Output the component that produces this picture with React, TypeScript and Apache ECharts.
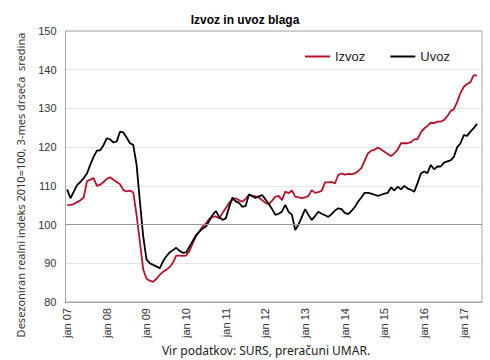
import React, { useEffect, useRef } from "react";
import * as echarts from "echarts";

const monthNames = ["jan", "feb", "mar", "apr", "maj", "jun", "jul", "avg", "sep", "okt", "nov", "dec"];
const yearLabels = ["07", "08", "09", "10", "11", "12", "13", "14", "15", "16", "17"];
const categoryCount = 126;

const izvoz = [
  105.0, 105.1, 105.3, 105.8, 106.3, 107.0, 111.2, 111.6, 112.0, 110.0, 110.3, 111.0,
  111.8, 112.2, 111.6, 111.0, 110.4, 108.9, 108.6, 108.8, 108.3, 102.5, 95.5, 88.5,
  86.0, 85.5, 85.2, 86.0, 87.0, 87.8, 88.3, 89.0, 90.2, 92.0, 92.0, 91.9,
  92.0, 93.2, 95.2, 97.0, 98.3, 99.5, 100.3, 101.5, 102.0, 102.1, 101.6, 103.0,
  104.3, 105.6, 106.4, 106.8, 106.3, 105.9, 106.6, 107.7, 107.5, 107.3, 107.0, 106.3,
  105.6, 105.3, 106.2, 107.2, 107.4, 106.3, 108.5, 108.1, 108.8, 107.2, 107.0, 106.8,
  107.0, 107.4, 108.9, 108.2, 108.4, 108.7, 110.9, 110.9, 111.0, 110.6, 112.8, 113.2,
  112.9, 113.1, 113.0, 113.2, 113.8, 114.6, 116.5, 118.4, 119.1, 119.3, 119.9, 119.4,
  118.8, 118.2, 117.7, 118.4, 119.4, 121.0, 121.0, 121.0, 121.3, 122.0, 122.1, 123.8,
  124.8, 125.5, 126.3, 126.2, 126.6, 126.6, 127.0, 128.0, 129.3, 129.8, 131.7, 134.0,
  135.6, 136.3, 136.8, 138.6, 138.5,
];

const uvoz = [
  109.1, 106.8, 108.5, 110.2, 111.0, 112.0, 113.2, 115.5, 117.5, 119.1, 119.2, 120.5,
  122.3, 122.0, 121.2, 121.5, 124.0, 123.8, 122.5, 121.0, 120.6, 115.5, 106.0, 97.0,
  91.0, 90.0, 89.6, 89.2, 88.7, 90.5, 91.8, 92.8, 93.4, 94.0, 93.2, 92.7,
  92.8, 94.3, 95.8, 97.3, 98.2, 99.0, 99.5, 101.0, 102.5, 103.5, 102.0, 101.2,
  101.6, 104.5, 107.0, 106.0, 105.6, 104.6, 104.8, 107.8, 107.3, 106.9, 107.3, 107.6,
  106.5, 105.3, 104.0, 102.5, 102.8, 103.4, 105.1, 103.3, 102.5, 98.6, 100.0, 102.0,
  104.0, 102.5, 101.2, 102.2, 103.3, 102.8, 102.4, 102.0, 102.7, 103.6, 104.2, 104.0,
  103.0, 102.7, 103.5, 104.5, 105.9, 107.0, 108.2, 108.2, 108.0, 107.7, 107.4, 107.7,
  108.0, 108.2, 109.6, 108.8, 109.8, 109.1, 110.0, 109.3, 109.0, 108.5, 110.7, 113.2,
  113.7, 113.3, 115.4, 114.3, 115.0, 115.0, 116.0, 116.3, 116.6, 117.5, 120.0, 121.0,
  123.1, 122.9, 124.0, 124.9, 126.0,
];

const categories: string[] = [];
for (let i = 0; i < categoryCount; i++) {
  const y = yearLabels[Math.floor(i / 12)];
  categories.push(monthNames[i % 12] + " " + y);
}

const yMin = 80;
const yMax = 150;
const yStep = 10;

export default function App() {
  const ref = useRef<HTMLDivElement>(null);
  useEffect(() => {
    if (!ref.current) return;
    const chart = echarts.init(ref.current, null, { renderer: "svg" });
    const font = "'Liberation Sans', Arial, sans-serif";
    chart.setOption({
      animation: false,
      backgroundColor: "#ffffff",
      textStyle: { fontFamily: font },
      grid: {
        left: 65.5,
        right: 8,
        top: 31,
        bottom: 58,
        show: true,
        borderColor: "#a6a6a6",
        borderWidth: 1,
      },
      title: {
        text: "Izvoz in uvoz blaga",
        left: "center",
        top: 9,
        textStyle: { fontSize: 12, fontWeight: "bold", color: "#000", fontFamily: font },
      },
      legend: {
        left: 300,
        top: 45,
        icon: "rect",
        itemWidth: 25,
        itemHeight: 2,
        itemGap: 25,
        textStyle: { fontSize: 13, color: "#222", fontFamily: font },
        data: ["Izvoz", "Uvoz"],
      },
      xAxis: {
        type: "category",
        data: categories,
        boundaryGap: true,
        axisLine: { show: true, lineStyle: { color: "#a6a6a6" } },
        axisTick: { show: false },
        axisLabel: {
          interval: 11,
          rotate: 90,
          fontSize: 11,
          color: "#333",
          margin: 6,
          fontFamily: font,
        },
        splitLine: { show: false },
      },
      yAxis: {
        type: "value",
        min: yMin,
        max: yMax,
        interval: yStep,
        axisLine: { show: true, lineStyle: { color: "#a6a6a6" } },
        axisTick: { show: false },
        axisLabel: { fontSize: 11, color: "#333", margin: 9, fontFamily: font },
        splitLine: { show: true, lineStyle: { color: "#c8c8c8", type: "dotted", width: 1 } },
      },
      graphic: [
        {
          type: "text",
          x: 20,
          y: 185,
          rotation: Math.PI / 2,
          style: {
            text: "Desezoniran realni indeks 2010=100, 3-mes drseča  sredina",
            fontSize: 11,
            fontFamily: "'Noto Sans', sans-serif",
            fill: "#333",
            align: "center",
            verticalAlign: "middle",
          },
        },
        {
          type: "text",
          x: 266,
          y: 350,
          style: {
            text: "Vir podatkov: SURS, preračuni UMAR.",
            fontSize: 12,
            fontFamily: "'Noto Sans', sans-serif",
            fill: "#222",
            align: "center",
            verticalAlign: "middle",
          },
        },
      ],
      series: [
        {
          name: "Izvoz",
          type: "line",
          data: izvoz,
          showSymbol: false,
          symbol: "none",
          lineStyle: { color: "#b8112b", width: 1.8 },
          itemStyle: { color: "#b8112b" },
          markLine: {
            silent: true,
            symbol: "none",
            label: { show: false },
            lineStyle: { color: "#999", type: "solid", width: 1 },
            data: [{ yAxis: 100 }],
          },
          z: 2,
        },
        {
          name: "Uvoz",
          type: "line",
          data: uvoz,
          showSymbol: false,
          symbol: "none",
          lineStyle: { color: "#000000", width: 1.8 },
          itemStyle: { color: "#000000" },
          z: 3,
        },
      ],
    });
    return () => chart.dispose();
  }, []);
  return (
    <div
      ref={ref}
      style={{ position: "fixed", left: 0, top: 0, width: 490, height: 360 }}
    />
  );
}
